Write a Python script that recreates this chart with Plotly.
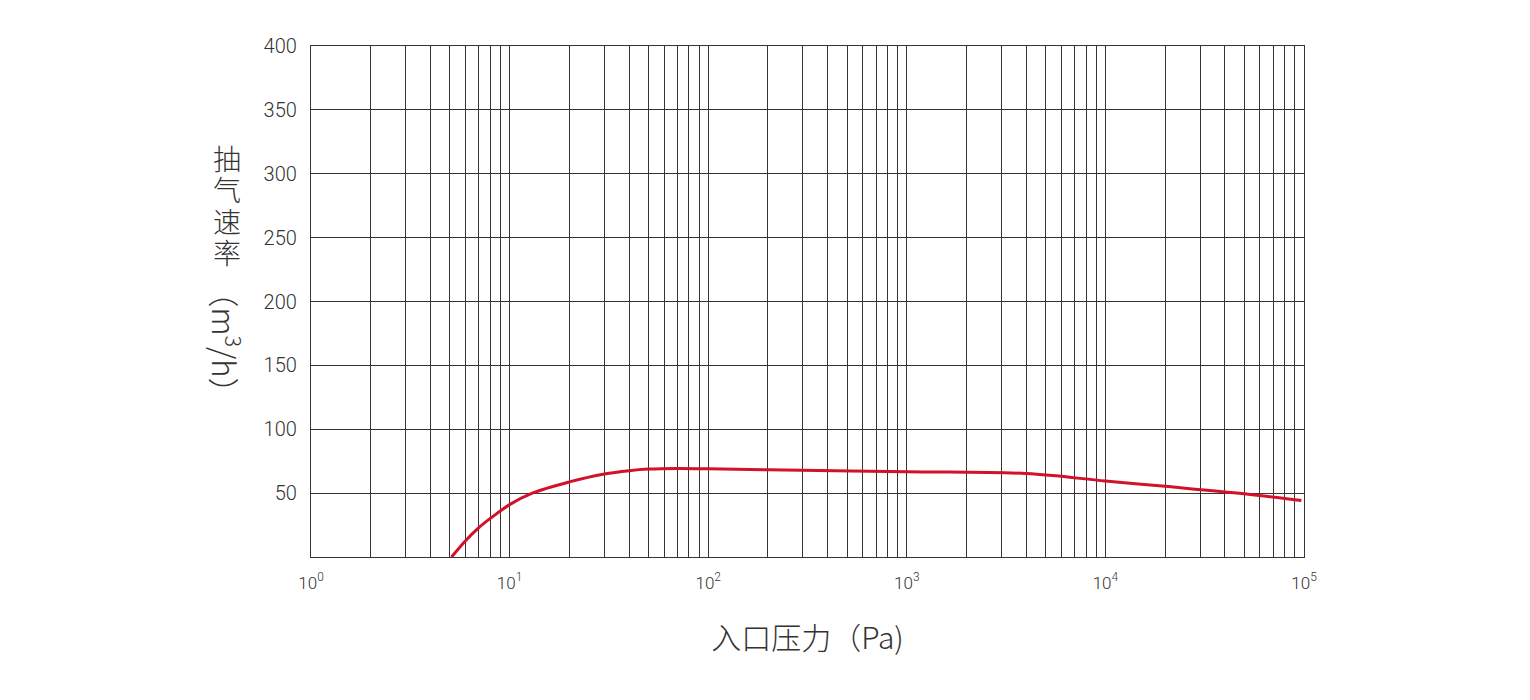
import plotly.graph_objects as go

# inlet pressure (Pa) vs pumping speed (m3/h)
pressure = [5.1, 6, 7, 8, 10, 13, 20, 30, 40, 50, 70, 100, 200, 1000, 4000, 10000, 20000, 50000, 97000]
speed = [0, 12.8, 23, 30.2, 41.0, 50, 58.8, 65.0, 67.6, 68.8, 69.3, 69.0, 68.3, 66.8, 65.3, 59.5, 55.3, 49.5, 44.2]

y_ticks = [50, 100, 150, 200, 250, 300, 350, 400]
x_grid = [m * 10 ** k for k in range(5) for m in range(1, 10)] + [100000]
x_labels = [f"10<sup>{k}</sup>" for k in range(6)]

y_title_chars = ["抽", "气", "速", "率"]
y_title_unit = "（m<sup>3</sup>/h）"

FONT = "Noto Sans CJK SC"
NUM_FONT = "Roboto"
GRID = "#3b3333"

fig = go.Figure()
fig.add_trace(go.Scatter(
    x=pressure, y=speed, mode="lines",
    line=dict(color="#d2112b", width=3, shape="spline", smoothing=1.0),
    showlegend=False,
))

ticktext = [x_labels[i // 9] if i % 9 == 0 else "" for i in range(len(x_grid))]

fig.update_xaxes(
    type="log", range=[0, 5],
    tickvals=x_grid, ticktext=ticktext, ticks="",
    showgrid=True, gridcolor=GRID, gridwidth=1.2,
    showline=True, linecolor=GRID, linewidth=1.2, mirror=True,
    zeroline=False,
    tickfont=dict(family=NUM_FONT, size=17, color="#333", weight=300),
    ticklabelstandoff=10,
    title=dict(text="入口压力（Pa)", font=dict(family=FONT, size=30, color="#333", weight=300), standoff=36),
)
fig.update_yaxes(
    range=[0, 400], tickvals=y_ticks, ticks="",
    showgrid=True, gridcolor=GRID, gridwidth=1.2,
    showline=True, linecolor=GRID, linewidth=1.2, mirror=True,
    zeroline=False,
    tickfont=dict(family=NUM_FONT, size=20, color="#333", weight=300),
    ticklabelstandoff=9,
)

# vertical y title: upright CJK characters then the rotated unit
for i, ch in enumerate(y_title_chars):
    fig.add_annotation(
        text=ch, xref="paper", yref="paper",
        x=-0.0846, y=0.781 - i * 0.0615, xanchor="center", yanchor="middle", showarrow=False,
        height=30, valign="middle",
        font=dict(family=FONT, size=28, color="#333", weight=300),
    )
fig.add_annotation(
    text=y_title_unit, xref="paper", yref="paper", textangle=90,
    x=-0.0846, y=0.42, xanchor="center", yanchor="middle", showarrow=False,
    font=dict(family=FONT, size=31, color="#333", weight=300),
)

fig.update_layout(
    width=1530, height=700,
    margin=dict(l=303, r=234, t=38, b=151),
    plot_bgcolor="white", paper_bgcolor="white",
)

fig.write_html("out.html")
